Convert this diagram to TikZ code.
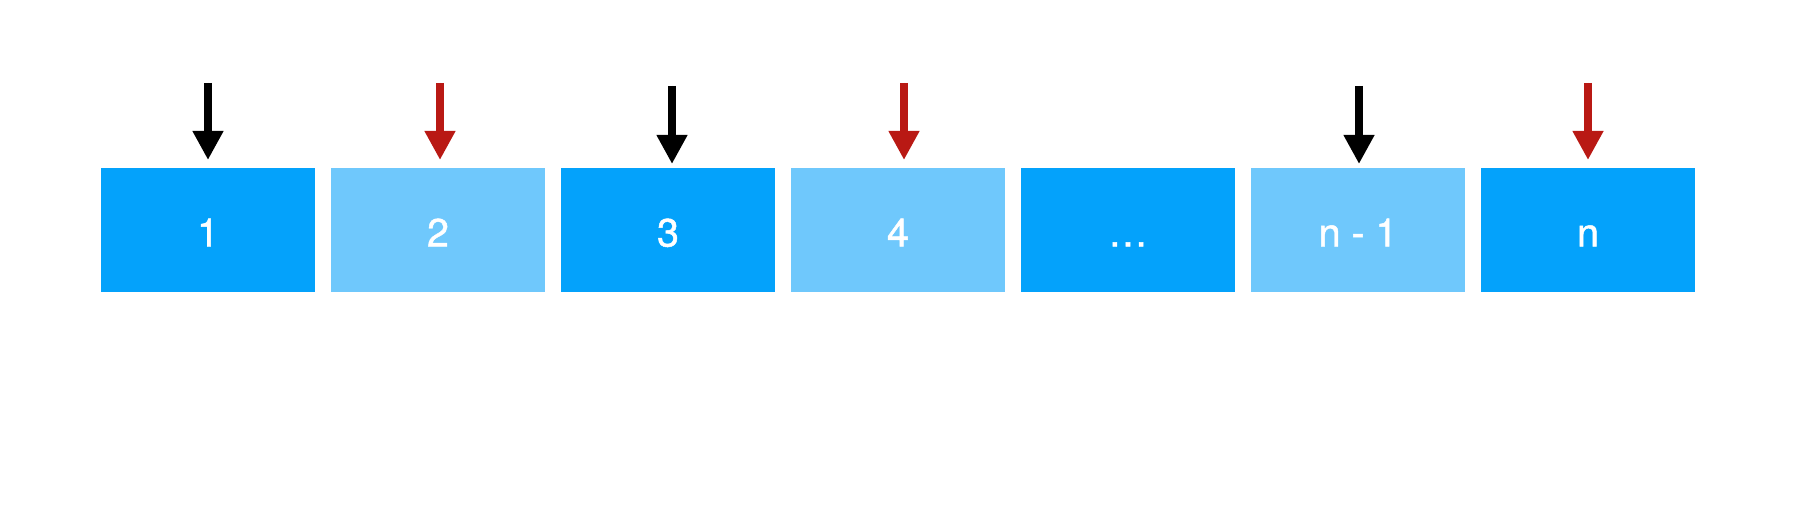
\documentclass[tikz,border=0pt]{standalone}
\usepackage{fontspec}
\usepackage{tikz}
\usetikzlibrary{arrows.meta}
\newfontfamily\cellfont[FakeBold=1.2]{TeX Gyre Heros}
\definecolor{cellDark}{RGB}{4,162,251}
\definecolor{cellLight}{RGB}{111,200,252}
\definecolor{markRed}{RGB}{185,25,20}
\tikzset{every picture/.style={line width=0.75pt}}
\tikzset{
  cell/.style={rectangle, inner sep=0pt, minimum width=107pt, minimum height=62pt,
    text=white, font=\cellfont\fontsize{19.7}{24}\selectfont, text height=16.5pt, text depth=0pt},
  pointer/.style={line width=4pt, -{Triangle[length=14.5pt,width=14.5pt]}},
}

\begin{document}
\begin{tikzpicture}[x=0.5pt,y=0.5pt,yscale=-1,xscale=1]
\useasboundingbox (0,0) rectangle (1814,508);

%Shape: Rectangles (cells of the array)
\foreach \n/\x/\c/\lab in {1/208/cellDark/1, 2/438/cellLight/2, 3/668/cellDark/3, 4/898/cellLight/4,
    5/1128/cellDark/…, 6/1358/cellLight/{n - 1}, 7/1588/cellDark/n}
  \node[cell, fill=\c] (c\n) at (\x,230) {\lab};

%Arrows above the cells
\foreach \n/\x/\ytop/\ytip/\col in {1/208/83/160/black, 2/440/83/160/markRed, 3/672/86/164/black,
    4/904/83/160/markRed, 6/1359/86/164/black, 7/1588/83/160/markRed}
{
  \coordinate (top\n) at (\x,\ytop);
  \coordinate (tip\n) at (\x,\ytip);
  \draw[pointer, draw=\col, fill=\col] (top\n) -- (tip\n);
}

\end{tikzpicture}
\end{document}
